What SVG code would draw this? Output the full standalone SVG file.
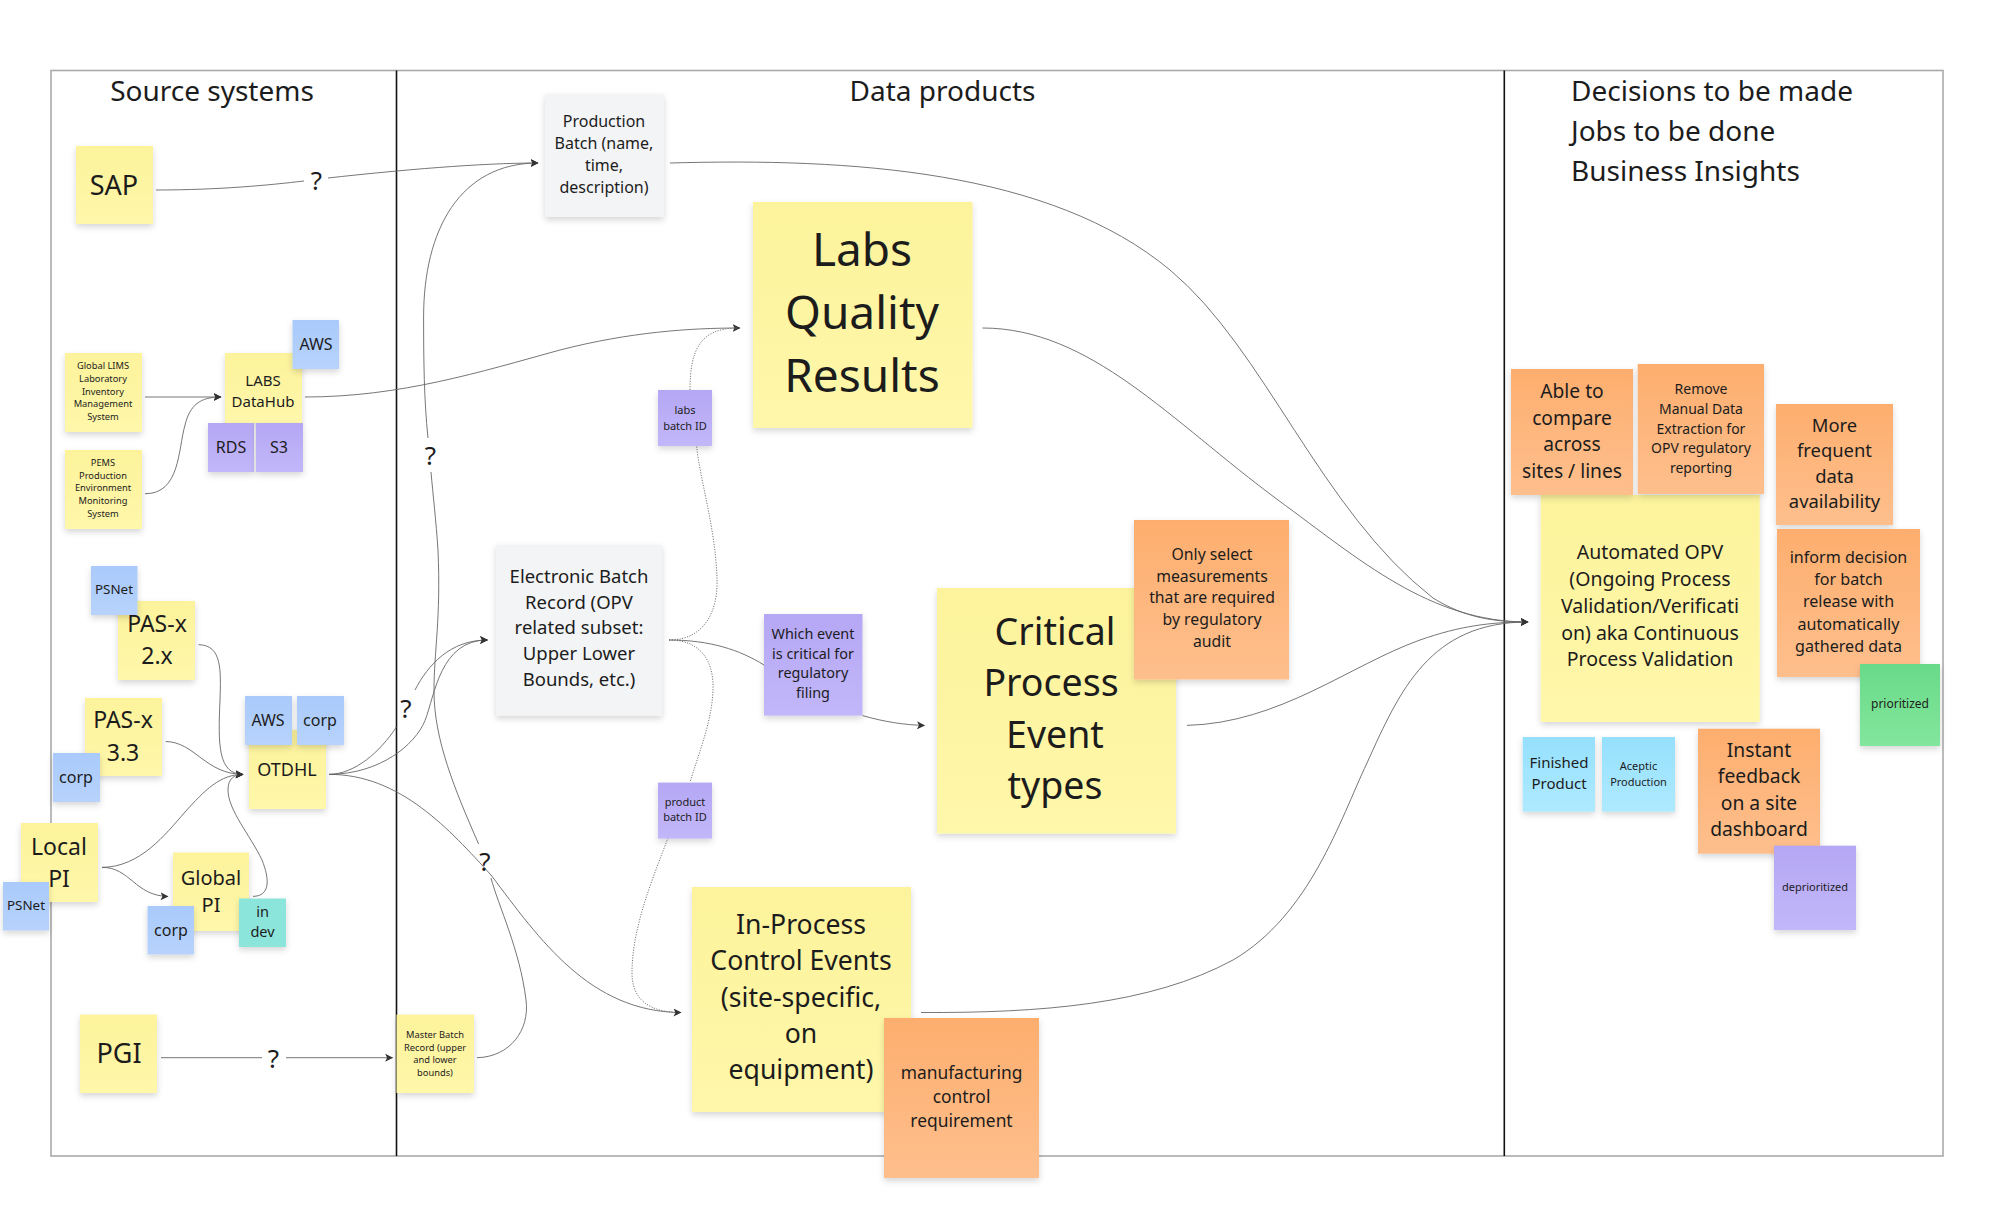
<svg xmlns="http://www.w3.org/2000/svg" width="2000" height="1219" viewBox="0 0 2000 1219">
<style>
text{font-family:"Noto Sans","Open Sans","Liberation Sans",sans-serif;fill:#1c1c1c;text-anchor:middle}
.h{text-anchor:start;font-size:28px}
.mid{text-anchor:middle;font-size:28px}
.c{fill:none;stroke:#666;stroke-width:.9}
.a{marker-end:url(#arrow)}
.d{fill:none;stroke:#777;stroke-width:1;stroke-dasharray:1.2 1.4}
.s{filter:url(#shadow)}
.y{fill:url(#gy)}.o{fill:url(#go)}.p{fill:url(#gp)}.b{fill:url(#gb)}.l{fill:url(#gl)}.g{fill:url(#gg)}.t{fill:#8ce5db}.w{fill:#f3f4f6}
.q{font-size:26px}
</style>
<defs>
<filter id="shadow" x="-20%" y="-20%" width="140%" height="150%"><feDropShadow dx="0" dy="3" stdDeviation="3" flood-color="#000" flood-opacity=".16"/></filter>
<linearGradient id="gy" x1="0" y1="0" x2="0" y2="1"><stop offset="0" stop-color="#fdf39c"/><stop offset="1" stop-color="#fff7aa"/></linearGradient>
<linearGradient id="go" x1="0" y1="0" x2="0" y2="1"><stop offset="0" stop-color="#fdae6e"/><stop offset="1" stop-color="#febf8d"/></linearGradient>
<linearGradient id="gp" x1="0" y1="0" x2="0" y2="1"><stop offset="0" stop-color="#b5a7f4"/><stop offset="1" stop-color="#c2b7fa"/></linearGradient>
<linearGradient id="gb" x1="0" y1="0" x2="0" y2="1"><stop offset="0" stop-color="#a9caFb"/><stop offset="1" stop-color="#b7d3fd"/></linearGradient>
<linearGradient id="gl" x1="0" y1="0" x2="0" y2="1"><stop offset="0" stop-color="#95e0fe"/><stop offset="1" stop-color="#afeaff"/></linearGradient>
<linearGradient id="gg" x1="0" y1="0" x2="0" y2="1"><stop offset="0" stop-color="#69da89"/><stop offset="1" stop-color="#82e69c"/></linearGradient>
<marker id="arrow" markerUnits="userSpaceOnUse" markerWidth="9" markerHeight="9" refX="7.5" refY="4" orient="auto"><path d="M0 0L8 4L0 8L2 4z" fill="#333"/></marker>
</defs>
<rect width="2000" height="1219" fill="#fff"/>
<g id="frame">
<rect x="51" y="70.5" width="1892" height="1085.5" fill="none" stroke="#aaa" stroke-width="1.6"/>
<line x1="396.5" y1="70.5" x2="396.5" y2="1156" stroke="#111" stroke-width="1.6"/>
<line x1="1504.3" y1="70.5" x2="1504.3" y2="1156" stroke="#111" stroke-width="1.6"/>
<text class="mid" x="212" y="101">Source systems</text>
<text class="mid" x="942.5" y="101">Data products</text>
<text class="h" x="1571" y="101">Decisions to be made</text>
<text class="h" x="1571" y="141">Jobs to be done</text>
<text class="h" x="1571" y="181">Business Insights</text>
</g>
<g id="connectors">
<path class="c" d="M156 190C220 190 270 185 304 181"/>
<path class="c a" d="M328 178C400 170 480 163 538 163"/>
<path class="c" d="M477 1057.7C510 1057 530 1030 526 1000C520 950 498 905 491 878"/>
<path class="c" d="M478.6 844C455 790 434 740 434 691C434 650 441 620 438 550C436 520 433 495 431 472"/>
<path class="c a" d="M428 438C424 400 423.6 360 423.6 317C423.6 230 460 163 538 163"/>
<path class="c a" d="M305 397C400 397 480 372 560 350C630 332 690 328 740 328"/>
<path class="d" d="M690 390C690 350 700 328 738 328"/>
<path class="d" d="M669 640C705 640 718 610 717 580C716 530 700 480 696.6 446"/>
<path class="d" d="M669 640C700 640 714 660 713 690C712 720 700 750 690 782"/>
<path class="d" d="M668 838C650 885 632 930 632 973C632 1000 650 1012 679 1012.5"/>
<path class="c" d="M669 640C710 640 740 650 764 665"/>
<path class="c a" d="M862.5 715.6C885 722 905 725 924.5 725.4"/>
<path class="c" d="M329 774.4C355 774 380 752 396.4 727"/>
<path class="c a" d="M415 690C428 665 450 640 487.5 640"/>
<path class="c a" d="M329 774.4C380 774 415 745 425 720.6C435 695 440 640 487.5 640"/>
<path class="c a" d="M329 774.4C400 774 450 830 491 875C540 940 590 1012 681 1012.5"/>
<path class="c a" d="M145 397L221 397"/>
<path class="c a" d="M145 493.7C180 494 178 450 185 425C190 405 200 397 221 397"/>
<path class="c a" d="M198.6 644.7C222 645 221 670 220 700C218 745 218 774 243 774.4"/>
<path class="c a" d="M165.7 741.5C195 742 205 774 243 774.4"/>
<path class="c a" d="M102 867.4C140 867 165 835 185 812C205 790 220 774.4 243 774.4"/>
<path class="c a" d="M102 867.4C130 867 135 896 168 896.4"/>
<path class="c a" d="M253 896.4C270 896 270 880 262 860C250 835 228 810 228 790C228 778 235 774.4 243 774.4"/>
<path class="c" d="M161 1057.7L262 1057.7"/>
<path class="c a" d="M286 1057.7L392.6 1057.7"/>
<path class="c a" d="M670 163C850 158 1050 170 1170 270C1265 349 1320 510 1433 598C1465 618 1495 622 1528 622"/>
<path class="c a" d="M982.5 328C1090 328 1170 420 1278 500C1360 560 1430 622 1528 622"/>
<path class="c a" d="M1187 725.4C1280 723 1350 665 1420 640C1460 626 1490 622 1528 622"/>
<path class="c a" d="M921 1012.5C1040 1013 1150 1005 1233 960C1310 915 1340 820 1367 763C1400 690 1430 622 1528 622"/>
<text class="q" x="316.5" y="190">?</text>
<text class="q" x="430.5" y="465">?</text>
<text class="q" x="406" y="718">?</text>
<text class="q" x="485" y="871">?</text>
<text class="q" x="273.5" y="1068">?</text>
</g>
<g id="sap"><rect class="s y" x="76" y="146" width="77" height="78"/><text font-size="27" x="114" y="195">SAP</text></g>
<g id="lims"><rect class="s y" x="65" y="353" width="77" height="79"/><text font-size="9.3"><tspan x="103" y="369">Global LIMS</tspan><tspan x="103" y="382">Laboratory</tspan><tspan x="103" y="395">Inventory</tspan><tspan x="103" y="407">Management</tspan><tspan x="103" y="420">System</tspan></text></g>
<g id="pems"><rect class="s y" x="65" y="450" width="77" height="79"/><text font-size="9.3"><tspan x="103" y="466">PEMS</tspan><tspan x="103" y="479">Production</tspan><tspan x="103" y="491">Environment</tspan><tspan x="103" y="504">Monitoring</tspan><tspan x="103" y="517">System</tspan></text></g>
<g id="labshub"><rect class="s y" x="225" y="353" width="77" height="70"/><text font-size="15"><tspan x="263" y="386">LABS</tspan><tspan x="263" y="407">DataHub</tspan></text></g>
<g id="aws1"><rect class="s b" x="292.5" y="320" width="46.5" height="49"/><text font-size="16" x="316" y="350">AWS</text></g>
<g id="rds"><rect class="s p" x="208" y="423" width="46" height="49"/><text font-size="16" x="231" y="453">RDS</text></g>
<g id="s3"><rect class="s p" x="256" y="423" width="47" height="49"/><text font-size="16" x="279" y="453">S3</text></g>
<g id="pas2"><rect class="s y" x="118" y="601" width="77" height="79"/><text font-size="23"><tspan x="157" y="632">PAS-x</tspan><tspan x="157" y="664">2.x</tspan></text></g>
<g id="psnet1"><rect class="s b" x="91" y="566" width="46.5" height="49"/><text font-size="13.4" x="114" y="594">PSNet</text></g>
<g id="pas3"><rect class="s y" x="85" y="698" width="77" height="78"/><text font-size="23"><tspan x="123" y="728">PAS-x</tspan><tspan x="123" y="761">3.3</tspan></text></g>
<g id="corp1"><rect class="s b" x="53" y="753" width="47" height="49"/><text font-size="16" x="76" y="783">corp</text></g>
<g id="otdhl"><rect class="s y" x="249" y="730" width="77" height="79"/><text font-size="18" x="287" y="776">OTDHL</text></g>
<g id="aws2"><rect class="s b" x="245" y="696" width="47" height="49"/><text font-size="16" x="268" y="726">AWS</text></g>
<g id="corp2"><rect class="s b" x="297" y="696" width="47" height="49"/><text font-size="16" x="320" y="726">corp</text></g>
<g id="localpi"><rect class="s y" x="21" y="823" width="77" height="79"/><text font-size="23"><tspan x="59" y="855">Local</tspan><tspan x="59" y="887">PI</tspan></text></g>
<g id="psnet2"><rect class="s b" x="3" y="882" width="46" height="48.5"/><text font-size="13.4" x="26" y="910">PSNet</text></g>
<g id="globalpi"><rect class="s y" x="173" y="852.5" width="76" height="78.5"/><text font-size="20"><tspan x="211" y="885">Global</tspan><tspan x="211" y="912">PI</tspan></text></g>
<g id="corp3"><rect class="s b" x="147.5" y="906" width="46.5" height="48.5"/><text font-size="16" x="171" y="936">corp</text></g>
<g id="indev"><rect class="s t" x="239" y="898.5" width="47" height="48.5"/><text font-size="14.5"><tspan x="262.5" y="917">in</tspan><tspan x="262.5" y="937">dev</tspan></text></g>
<g id="pgi"><rect class="s y" x="80" y="1014.6" width="77" height="78.4"/><text font-size="27" x="119" y="1063">PGI</text></g>
<g id="master"><rect class="s y" x="396.5" y="1014.6" width="77.5" height="78.4"/><text font-size="9.3"><tspan x="435" y="1038">Master Batch</tspan><tspan x="435" y="1051">Record (upper</tspan><tspan x="435" y="1063">and lower</tspan><tspan x="435" y="1076">bounds)</tspan></text></g>
<g id="prodbatch"><rect class="s w" x="545" y="94" width="119" height="123"/><text font-size="16"><tspan x="604" y="127">Production</tspan><tspan x="604" y="149">Batch (name,</tspan><tspan x="604" y="171">time,</tspan><tspan x="604" y="193">description)</tspan></text></g>
<g id="labsq"><rect class="s y" x="753" y="202" width="219.5" height="226"/><text font-size="46"><tspan x="862" y="266">Labs</tspan><tspan x="862" y="329">Quality</tspan><tspan x="862" y="392">Results</tspan></text></g>
<g id="labsid"><rect class="s p" x="658" y="390" width="54" height="56"/><text font-size="11"><tspan x="685" y="414">labs</tspan><tspan x="685" y="430">batch ID</tspan></text></g>
<g id="ebr"><rect class="s w" x="496" y="544.6" width="166" height="171"/><text font-size="18.5"><tspan x="579" y="583">Electronic Batch</tspan><tspan x="579" y="609">Record (OPV</tspan><tspan x="579" y="634">related subset:</tspan><tspan x="579" y="660">Upper Lower</tspan><tspan x="579" y="686">Bounds, etc.)</tspan></text></g>
<g id="which"><rect class="s p" x="764" y="614" width="98.5" height="101.6"/><text font-size="14.4"><tspan x="813" y="639">Which event</tspan><tspan x="813" y="659">is critical for</tspan><tspan x="813" y="678">regulatory</tspan><tspan x="813" y="698">filing</tspan></text></g>
<g id="productid"><rect class="s p" x="658" y="782.6" width="54" height="56"/><text font-size="11"><tspan x="685" y="806">product</tspan><tspan x="685" y="821">batch ID</tspan></text></g>
<g id="critical"><rect class="s y" x="937" y="588" width="239" height="245.5"/><text font-size="37.5"><tspan x="1055" y="645">Critical</tspan><tspan x="1051" y="696">Process</tspan><tspan x="1055" y="748">Event</tspan><tspan x="1055" y="799">types</tspan></text></g>
<g id="only"><rect class="s o" x="1134" y="520" width="155" height="159.5"/><text font-size="15.8"><tspan x="1212" y="560">Only select</tspan><tspan x="1212" y="582">measurements</tspan><tspan x="1212" y="603">that are required</tspan><tspan x="1212" y="625">by regulatory</tspan><tspan x="1212" y="647">audit</tspan></text></g>
<g id="inprocess"><rect class="s y" x="692" y="887" width="219" height="225"/><text font-size="26.6"><tspan x="801" y="934">In-Process</tspan><tspan x="801" y="970">Control Events</tspan><tspan x="801" y="1007">(site-specific,</tspan><tspan x="801" y="1043">on</tspan><tspan x="801" y="1079">equipment)</tspan></text></g>
<g id="mfg"><rect class="s o" x="884" y="1018" width="155" height="160"/><text font-size="17.4"><tspan x="961.5" y="1079">manufacturing</tspan><tspan x="961.5" y="1103">control</tspan><tspan x="961.5" y="1127">requirement</tspan></text></g>
<g id="opv"><rect class="s y" x="1540.7" y="495" width="219" height="227"/><text font-size="19.5"><tspan x="1650" y="559">Automated OPV</tspan><tspan x="1650" y="586">(Ongoing Process</tspan><tspan x="1650" y="613">Validation/Verificati</tspan><tspan x="1650" y="640">on) aka Continuous</tspan><tspan x="1650" y="666">Process Validation</tspan></text></g>
<g id="able"><rect class="s o" x="1511" y="369" width="122" height="126"/><text font-size="19.2"><tspan x="1572" y="398">Able to</tspan><tspan x="1572" y="425">compare</tspan><tspan x="1572" y="451">across</tspan><tspan x="1572" y="478">sites / lines</tspan></text></g>
<g id="remove"><rect class="s o" x="1637.7" y="364" width="126.3" height="130"/><text font-size="14"><tspan x="1701" y="394">Remove</tspan><tspan x="1701" y="414">Manual Data</tspan><tspan x="1701" y="434">Extraction for</tspan><tspan x="1701" y="453">OPV regulatory</tspan><tspan x="1701" y="473">reporting</tspan></text></g>
<g id="more"><rect class="s o" x="1776" y="404" width="117" height="121"/><text font-size="18.4"><tspan x="1834.5" y="432">More</tspan><tspan x="1834.5" y="457">frequent</tspan><tspan x="1834.5" y="483">data</tspan><tspan x="1834.5" y="508">availability</tspan></text></g>
<g id="inform"><rect class="s o" x="1777" y="529" width="143" height="148"/><text font-size="16.1"><tspan x="1848.5" y="563">inform decision</tspan><tspan x="1848.5" y="585">for batch</tspan><tspan x="1848.5" y="607">release with</tspan><tspan x="1848.5" y="630">automatically</tspan><tspan x="1848.5" y="652">gathered data</tspan></text></g>
<g id="prioritized"><rect class="s g" x="1860" y="664" width="80" height="82"/><text font-size="12" x="1900" y="708">prioritized</text></g>
<g id="finished"><rect class="s l" x="1522.7" y="737" width="72.3" height="74.7"/><text font-size="15"><tspan x="1559" y="768">Finished</tspan><tspan x="1559" y="789">Product</tspan></text></g>
<g id="aceptic"><rect class="s l" x="1602" y="737" width="73" height="74.7"/><text font-size="11"><tspan x="1638.5" y="770">Aceptic</tspan><tspan x="1638.5" y="786">Production</tspan></text></g>
<g id="instant"><rect class="s o" x="1698" y="728.7" width="122" height="125"/><text font-size="19.3"><tspan x="1759" y="757">Instant</tspan><tspan x="1759" y="783">feedback</tspan><tspan x="1759" y="810">on a site</tspan><tspan x="1759" y="836">dashboard</tspan></text></g>
<g id="deprioritized"><rect class="s p" x="1774" y="845.7" width="82" height="84.3"/><text font-size="11" x="1815" y="891">deprioritized</text></g>
</svg>
